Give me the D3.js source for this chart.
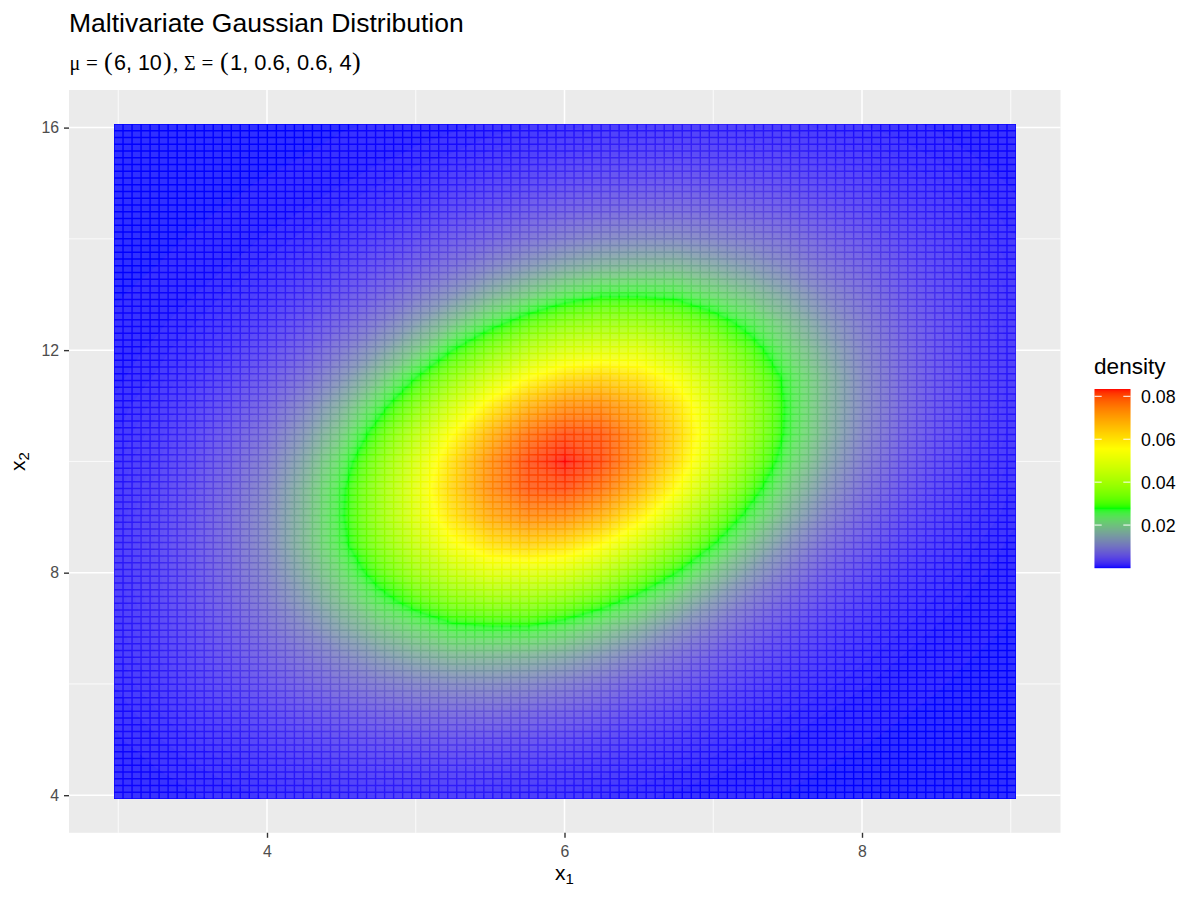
<!DOCTYPE html>
<html><head><meta charset="utf-8">
<script src="https://cdn.jsdelivr.net/npm/d3@7/dist/d3.min.js"></script>
<style>
html,body{margin:0;padding:0;background:#fff}
svg{display:block}
text{font-family:"Liberation Sans",Arial,sans-serif}
</style></head><body>
<svg id="c" width="1200" height="900"></svg>
<script>
// Density values (units of 0.0001), on a coarse grid.
const xGrid = [3,3.25,3.5,3.75,4,4.25,4.5,4.75,5,5.25,5.5,5.75,6,6.25,6.5,6.75,7,7.25,7.5,7.75,8,8.25,8.5,8.75,9];
const yGrid = [16,15.5,15,14.5,14,13.5,13,12.5,12,11.5,11,10.5,10,9.5,9,8.5,8,7.5,7,6.5,6,5.5,5,4.5,4];
const densityRows = [
[0,0,0,0,.1,.2,.4,.7,1.3,2,3.2,4.5,6,7.3,8.3,9.2,9.2,8.6,7.5,6.1,4.8,3.4,2.3,1.4,.8],
[0,0,0,.1,.2,.5,1,1.8,3.1,4.8,7.3,9.9,13,16,18,19,18,17,15,12,9,6.1,4.1,2.5,1.4],
[0,0,.1,.3,.6,1.2,2.3,4.1,6.8,11,16,21,27,32,35,37,35,32,27,21,16,11,6.8,4.1,2.3],
[0,.1,.3,.6,1.3,2.6,5,8.6,14,22,31,42,52,59,66,66,63,55,45,35,25,17,11,6.1,3.4],
[.1,.2,.6,1.3,2.8,5.3,9.9,17,28,42,57,75,92,106,112,111,102,89,73,55,38,25,16,8.9,4.8],
[.2,.5,1.2,2.6,5.3,11,19,32,50,73,102,130,155,172,178,178,159,135,106,78,55,35,21,12,6.1],
[.4,1,2.3,5,9.9,19,33,55,86,122,166,204,242,269,269,260,226,190,150,106,73,45,27,15,7.5],
[.7,1.8,4.1,8.6,17,32,55,89,135,190,251,308,354,379,379,354,308,251,190,135,89,55,32,17,8.6],
[1.3,3.1,6.8,14,28,50,86,135,197,278,354,429,481,498,498,451,390,308,226,159,102,63,35,18,9.2],
[2,4.8,11,22,42,73,122,190,278,374,472,556,612,629,604,541,451,354,260,178,111,66,37,19,9.2],
[3.2,7.3,16,31,57,102,166,251,354,472,584,674,727,732,688,604,494,379,269,178,112,66,35,18,8.3],
[4.5,9.9,21,42,75,130,204,308,429,556,674,763,806,794,732,629,504,379,265,174,105,60,32,16,7.3],
[6,13,27,52,92,155,242,354,481,612,727,806,834,806,727,612,481,354,242,155,92,52,27,13,6],
[7.3,16,32,60,105,174,265,379,504,629,732,794,806,763,674,556,429,308,204,130,75,42,21,9.9,4.5],
[8.3,18,35,66,112,178,269,379,494,604,688,732,727,674,584,472,354,251,166,102,57,31,16,7.3,3.2],
[9.2,19,37,66,111,178,260,354,451,541,604,629,612,556,472,374,278,190,122,73,42,22,11,4.8,2],
[9.2,18,35,63,102,159,226,308,390,451,498,498,481,429,354,278,197,135,86,50,28,14,6.8,3.1,1.3],
[8.6,17,32,55,89,135,190,251,308,354,379,379,354,308,251,190,135,89,55,32,17,8.6,4.1,1.8,.7],
[7.5,15,27,45,73,106,150,190,226,260,269,269,242,204,166,122,86,55,33,19,9.9,5,2.3,1,.4],
[6.1,12,21,35,55,78,106,135,159,178,178,172,155,130,102,73,50,32,19,11,5.3,2.6,1.2,.5,.2],
[4.8,8.9,16,25,38,55,73,89,102,111,112,106,92,75,57,42,28,17,9.9,5.3,2.8,1.3,.6,.2,.1],
[3.4,6.1,11,17,25,35,45,55,63,66,66,59,52,42,31,22,14,8.6,5,2.6,1.3,.6,.3,.1,0],
[2.3,4.1,6.8,11,16,21,27,32,35,37,35,32,27,21,16,11,6.8,4.1,2.3,1.2,.6,.3,.1,0,0],
[1.4,2.5,4.1,6.1,9,12,15,17,18,19,18,16,13,9.9,7.3,4.8,3.1,1.8,1,.5,.2,.1,0,0,0],
[.8,1.4,2.3,3.4,4.8,6.1,7.5,8.6,9.2,9.2,8.3,7.3,6,4.5,3.2,2,1.3,.7,.4,.2,.1,0,0,0,0]
];
const xTicks = [4,6,8];
const xMinor = [3,5,7,9];
const yTicks = [4,8,12,16];
const yMinor = [6,10,14];
const legendTicks = [0.02,0.04,0.06,0.08];
const colorStops = [0,0.0278,0.0556,0.0834];
const colorNames = ["#0000ff","#00ff00","#ffff00","#ff0000"];
const titleText = "Maltivariate Gaussian Distribution";
const legendTitle = "density";

const svg = d3.select("#c");
const panel = {l:69,r:1060.5,t:90,b:832.8};
const heat = {l:114,r:1016,t:124,b:799};
const x = d3.scaleLinear().domain([4,8]).range([267,862]);
const y = d3.scaleLinear().domain([4,16]).range([795.2,127.6]);
const color = d3.scaleLinear().domain(colorStops).range(colorNames).interpolate(d3.interpolateLab);

svg.append("rect").attr("x",panel.l).attr("y",panel.t).attr("width",panel.r-panel.l).attr("height",panel.b-panel.t).attr("fill","#EBEBEB");
const grid = svg.append("g").attr("stroke","#fff").attr("fill","none");
xMinor.forEach(v=>grid.append("line").attr("x1",x(v)).attr("x2",x(v)).attr("y1",panel.t).attr("y2",panel.b).attr("stroke-width",.8));
yMinor.forEach(v=>grid.append("line").attr("y1",y(v)).attr("y2",y(v)).attr("x1",panel.l).attr("x2",panel.r).attr("stroke-width",.8));
xTicks.forEach(v=>grid.append("line").attr("x1",x(v)).attr("x2",x(v)).attr("y1",panel.t).attr("y2",panel.b).attr("stroke-width",1.5));
yTicks.forEach(v=>grid.append("line").attr("y1",y(v)).attr("y2",y(v)).attr("x1",panel.l).attr("x2",panel.r).attr("stroke-width",1.5));

// Heat surface
svg.append("clipPath").attr("id","hc").append("rect").attr("x",heat.l).attr("y",heat.t).attr("width",heat.r-heat.l).attr("height",heat.b-heat.t);
const hg = svg.append("g").attr("clip-path","url(#hc)");
hg.append("rect").attr("x",heat.l).attr("y",heat.t).attr("width",heat.r-heat.l).attr("height",heat.b-heat.t).attr("fill",color(0));
const flat = densityRows.flat();
const nx = xGrid.length, ny = yGrid.length;
const thresholds = d3.range(.5,834,2);
const contours = d3.contours().size([nx,ny]).thresholds(thresholds)(flat);
const cx = d3.scaleLinear().domain([.5,nx-.5]).range([x(xGrid[0]),x(xGrid[nx-1])]);
const cy = d3.scaleLinear().domain([.5,ny-.5]).range([y(yGrid[0]),y(yGrid[ny-1])]);
const geo = d3.geoPath(d3.geoTransform({point(a,b){this.stream.point(cx(a),cy(b));}}));
hg.selectAll("path.band").data(contours).join("path").attr("class","band")
  .attr("d",geo).attr("fill",d=>color((d.value+1)/10000)).attr("stroke",d=>color((d.value+1)/10000)).attr("stroke-width",.3);

// Tile lattice: every tile is slightly lighter than the seam around it
const bx = d3.scaleBand().domain(d3.range(100)).range([heat.l,heat.r]);
const by = d3.scaleBand().domain(d3.range(100)).range([heat.t,heat.b]);
let tiles = "";
bx.domain().forEach(i=>by.domain().forEach(j=>{
  const a=bx(i)+.7,b=by(j)+.7,w=bx.bandwidth()-1.4,h=by.bandwidth()-1.4;
  tiles += `M${a.toFixed(2)},${b.toFixed(2)}h${w.toFixed(2)}v${h.toFixed(2)}h${(-w).toFixed(2)}z`;
}));
hg.append("path").attr("d",tiles).attr("fill","#fff").attr("fill-opacity",.19);

// Axes
const ax = svg.append("g").attr("transform",`translate(0,${panel.b})`).call(d3.axisBottom(x).tickValues(xTicks).tickFormat(d3.format("d")).tickSize(5).tickPadding(8));
const ay = svg.append("g").attr("transform",`translate(${panel.l},0)`).call(d3.axisLeft(y).tickValues(yTicks).tickFormat(d3.format("d")).tickSize(5).tickPadding(5));
[ax,ay].forEach(g=>{
  g.select(".domain").remove();
  g.selectAll(".tick line").attr("stroke","#333").attr("stroke-width",1.4);
  g.selectAll(".tick text").attr("fill","#4D4D4D").style("font-size","15.8px").style("font-family","Liberation Sans");
});

// Titles
svg.append("text").attr("x",69).attr("y",32).style("font-size","26.5px").attr("fill","#000").text(titleText);
const sub = svg.append("text").attr("y",70).attr("fill","#000");
const serif = "Liberation Serif";
[["μ",serif,20,69.5],["=",serif,21,86],["(",serif,26,104],["6, 10",null,21.5,114],[")",serif,26,163],[",",serif,21,173],
 ["Σ",serif,20,184],["=",serif,21,201.5],["(",serif,26,220],["1, 0.6, 0.6, 4",null,21.9,230],[")",serif,26,352]]
 .forEach(([t,f,s,px])=>{const n=sub.append("tspan").style("font-size",s+"px").attr("x",px).text(t); if(f)n.style("font-family",f);});

const xl = svg.append("text").attr("x",555).attr("y",880).style("font-size","21px").attr("fill","#000");
xl.append("tspan").text("x");
xl.append("tspan").style("font-size","15px").attr("dy",4).text("1");
const yl = svg.append("text").attr("transform","translate(25,471) rotate(-90)").style("font-size","21px").attr("fill","#000");
yl.append("tspan").text("x");
yl.append("tspan").style("font-size","15px").attr("dy",4).text("2");

// Legend
const lg = {l:1094.5,r:1130.5,t:389,b:568};
const ls = d3.scaleLinear().domain([0,0.0834]).range([lg.b,lg.t]);
svg.append("text").attr("x",1094).attr("y",373.5).style("font-size","22.6px").attr("fill","#000").text(legendTitle);
svg.append("g").selectAll("rect").data(d3.range(lg.t,lg.b)).join("rect")
  .attr("x",lg.l).attr("width",lg.r-lg.l).attr("y",d=>d).attr("height",1.2)
  .attr("fill",d=>color(ls.invert(d+.5)));
legendTicks.forEach(v=>{
  const py = ls(v);
  [[lg.l,lg.l+7.2],[lg.r-7.2,lg.r]].forEach(([a,b])=>svg.append("line").attr("x1",a).attr("x2",b).attr("y1",py).attr("y2",py).attr("stroke","#fff").attr("stroke-width",1));
  svg.append("text").attr("x",1141).attr("y",py+.5).attr("dy","0.35em").style("font-size","17.8px").attr("fill","#000").text(d3.format(".2f")(v));
});
</script>
</body></html>
